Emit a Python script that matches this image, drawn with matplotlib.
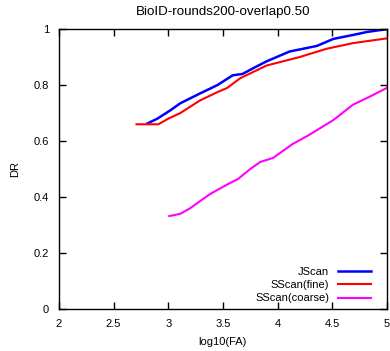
import numpy as np
import matplotlib.pyplot as plt

plt.rcParams['font.family'] = ['Liberation Sans', 'DejaVu Sans']
plt.rcParams['font.size'] = 8

# log10(FA) vs detection rate
jscan_x = [2.81, 2.90, 3.02, 3.11, 3.29, 3.45, 3.59, 3.68, 3.80, 3.90, 4.11, 4.36, 4.51, 4.70, 4.82, 5.0]
jscan_y = [0.663, 0.68, 0.71, 0.735, 0.77, 0.80, 0.835, 0.84, 0.865, 0.885, 0.92, 0.94, 0.965, 0.98, 0.99, 1.0]

fine_x = [2.71, 2.91, 3.00, 3.11, 3.29, 3.45, 3.54, 3.66, 3.90, 4.20, 4.45, 4.69, 5.0]
fine_y = [0.66, 0.66, 0.68, 0.70, 0.745, 0.775, 0.79, 0.825, 0.87, 0.90, 0.93, 0.95, 0.967]

coarse_x = [3.01, 3.11, 3.20, 3.38, 3.54, 3.64, 3.75, 3.84, 3.96, 4.14, 4.28, 4.51, 4.69, 4.85, 5.0]
coarse_y = [0.332, 0.34, 0.36, 0.41, 0.445, 0.465, 0.50, 0.525, 0.54, 0.59, 0.62, 0.675, 0.73, 0.76, 0.79]

fig = plt.figure(figsize=(3.9, 3.51), dpi=100)
ax = fig.add_axes([0.151, 0.1197, 0.841, 0.7973])

ax.plot(jscan_x, jscan_y, color='#0000ff', lw=1.8, label='JScan')
ax.plot(fine_x, fine_y, color='#ff0000', lw=1.5, label='SScan(fine)')
ax.plot(coarse_x, coarse_y, color='#ff00ff', lw=1.5, label='SScan(coarse)')

ax.set_xlim(2, 5)
ax.set_ylim(0, 1)
ax.set_xticks([2, 2.5, 3, 3.5, 4, 4.5, 5])
ax.set_xticklabels(['2', '2.5', '3', '3.5', '4', '4.5', '5'])
ax.set_yticks([0, 0.2, 0.4, 0.6, 0.8, 1])
ax.set_yticklabels(['0', '0.2', '0.4', '0.6', '0.8', '1'])
ax.tick_params(direction='in', top=True, right=True, length=5, width=1, pad=7)
for s in ax.spines.values():
    s.set_linewidth(1)

ax.set_xlabel('log10(FA)', labelpad=6)
ax.set_ylabel('DR', labelpad=10)
ax.set_title('BioID-rounds200-overlap0.50', pad=10)

ax.legend(loc='lower right', frameon=False, markerfirst=False, handlelength=3.0,
          labelspacing=0.3, borderaxespad=0.1, handletextpad=0.8,
          bbox_to_anchor=(0.97, 0.0))

fig.savefig('out.png', dpi=100)
